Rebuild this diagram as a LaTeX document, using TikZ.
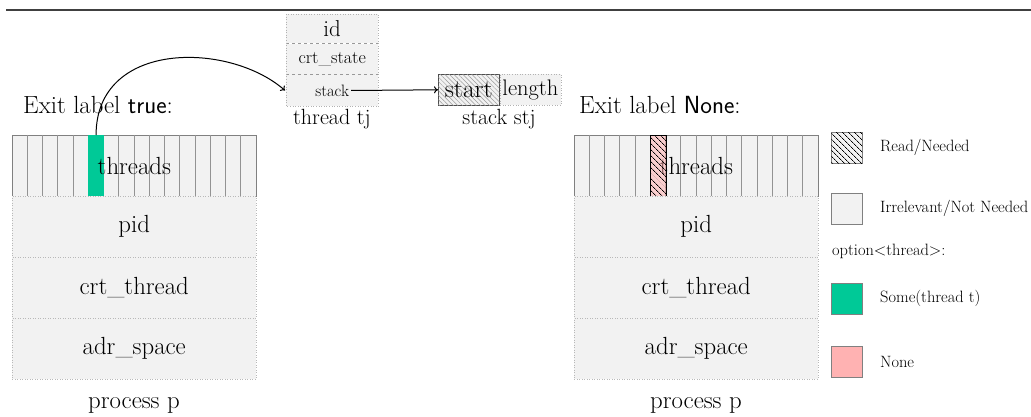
\documentclass[tikz,border=0pt]{standalone}
\usetikzlibrary{patterns.meta,arrows.meta,calc}
\definecolor{sgreen}{RGB}{0,201,151}
\definecolor{spink}{RGB}{255,178,178}
\definecolor{lfill}{RGB}{242,242,242}
\newcommand{\fsmain}{\fontsize{24.8}{28}\selectfont}
\newcommand{\fslab}{\fontsize{22}{26}\selectfont}
\newcommand{\fsid}{\fontsize{23}{26}\selectfont}
\newcommand{\fsexit}{\fontsize{24.8}{28}\selectfont}
\newcommand{\fsleg}{\fontsize{16.4}{19}\selectfont}
\newcommand{\fscs}{\fontsize{18}{21}\selectfont}
\newcommand{\fsst}{\fontsize{16.5}{19}\selectfont}
\begin{document}
\begin{tikzpicture}[x=1pt,y=-1pt,
  cell/.style={fill=lfill, draw=gray!55, dotted, line width=0.5pt, inner sep=0pt,
    anchor=north west, minimum width=244pt, minimum height=60.5pt, font=\fsmain},
  thrrow/.style={cell, solid, draw=gray, line width=0.7pt},
  colbox/.style={inner sep=0pt, anchor=north west, minimum width=15.25pt, minimum height=60.5pt},
  stripe/.style={gray!85, line width=0.8pt},
  tcell/.style={fill=lfill, inner sep=0pt, anchor=north west, minimum width=92pt},
  plain/.style={inner sep=0pt},
  arr/.style={-{To[length=4pt,width=7pt]}, line width=1pt},
  legsq/.style={draw=gray, line width=0.6pt, minimum size=31pt, inner sep=0pt, anchor=north west},
  legtx/.style={anchor=west, inner sep=0pt, font=\fsleg},
  hatch/.style={pattern={Lines[angle=-45,distance=4pt,line width=0.8pt]}, pattern color=black}
]
\useasboundingbox (0,0) rectangle (1031,417);

% top rule
\coordinate (ruleL) at (6,10);
\coordinate (ruleR) at (1031,10);
\draw[line width=1.5pt, black!75] (ruleL) -- (ruleR);

% ---------------- left process ----------------
\node[anchor=base west, plain, font=\fsexit] (exitL) at (23,114) {Exit label \textsf{true}:};
\node[thrrow] (Lthr) at (12,135) {};
\foreach \i in {1,...,15}
  \draw[stripe] ($(Lthr.north west)+(\i*15.25,0)$) -- ++(0,60.5);
\node[colbox, fill=sgreen] (Lg) at ($(Lthr.north west)+(5*15.25,0)$) {};
\node[plain, font=\fsmain] (Lthrt) at (Lthr.center) {threads};
\node[cell] (Lpid) at (Lthr.south west) {pid};
\node[cell] (Lcrt) at (Lpid.south west) {crt\_thread};
\node[cell] (Ladr) at (Lcrt.south west) {adr\_space};
\node[anchor=base, plain, font=\fsmain] (Llab) at (134,408) {process p};

% ---------------- thread tj ----------------
\node[tcell, minimum height=29pt, font=\fsid] (tid) at (286,14) {id};
\node[tcell, minimum height=31pt, font=\fscs] (tcs) at (tid.south west) {crt\_state};
\node[tcell, minimum height=31pt] (tst) at (tcs.south west) {};
\node[plain, inner sep=2pt, font=\fsst] (tstt) at (tst.center) {stack};
\draw[gray!80, dashed, line width=0.6pt] (tcs.north west) -- (tcs.north east);
\draw[gray!80, dashed, line width=0.6pt] (tst.north west) -- (tst.north east);
\draw[gray!60, dotted, line width=0.6pt] (tid.north west) rectangle (tst.south east);
\node[anchor=base, plain, font=\fslab] (tlab) at (332,125) {thread tj};

% ---------------- stack stj ----------------
\node[anchor=north west, inner sep=0pt, minimum width=61pt, minimum height=31pt,
      fill=lfill, draw=black!70, line width=0.6pt,
      postaction={pattern={Lines[angle=-45,distance=3.2pt,line width=0.5pt]}, pattern color=gray!80}]
      (sstart) at (438,74) {};
\node[plain, font=\fontsize{25.5}{28}\selectfont] (sstartt) at (sstart.center) {start};
\node[anchor=north west, inner sep=0pt, minimum width=61pt, minimum height=31pt,
      fill=lfill, draw=gray!60, dotted, line width=0.6pt, font=\fontsize{22.5}{26}\selectfont]
      (slen) at (sstart.north east) {length};
\node[anchor=base, plain, font=\fslab] (slab) at (499,125) {stack stj};

% connectors
\draw[arr] (Lg.north) .. controls +(0,-95) and +(-56,-49) .. ([xshift=-1pt]tst.west);
\draw[arr] (tstt.east) -- (sstart.west);

% ---------------- right process ----------------
\node[anchor=base west, plain, font=\fsexit] (exitR) at (579,114) {Exit label \textsf{None}:};
\node[thrrow] (Rthr) at (574,135) {};
\foreach \i in {1,...,15}
  \draw[stripe] ($(Rthr.north west)+(\i*15.25,0)$) -- ++(0,60.5);
\node[plain, font=\fsmain] (Rthrt) at (Rthr.center) {threads};
\node[colbox, fill=spink, fill opacity=0.55] (Rr) at ($(Rthr.north west)+(5*15.25,0)$) {};
\node[colbox, hatch, draw=black, line width=1pt] (Rrh) at (Rr.north west) {};
\node[cell] (Rpid) at (Rthr.south west) {pid};
\node[cell] (Rcrt) at (Rpid.south west) {crt\_thread};
\node[cell] (Radr) at (Rcrt.south west) {adr\_space};
\node[anchor=base, plain, font=\fsmain] (Rlab) at (696,408) {process p};

% ---------------- legend ----------------
\node[legsq, fill=lfill, postaction={hatch}] (k1) at (831,132) {};
\node[legtx] (k1t) at (880,147.5) {Read/Needed};
\node[legsq, fill=lfill] (k2) at (831,193) {};
\node[legtx] (k2t) at (880,208.5) {Irrelevant/Not Needed};
\node[legtx] (k3t) at (832,251) {option\textless thread\textgreater:};
\node[legsq, fill=sgreen] (k4) at (831,283) {};
\node[legtx] (k4t) at (880,298.5) {Some(thread t)};
\node[legsq, fill=spink] (k5) at (831,346) {};
\node[legtx] (k5t) at (880,361.5) {None};
\end{tikzpicture}
\end{document}
